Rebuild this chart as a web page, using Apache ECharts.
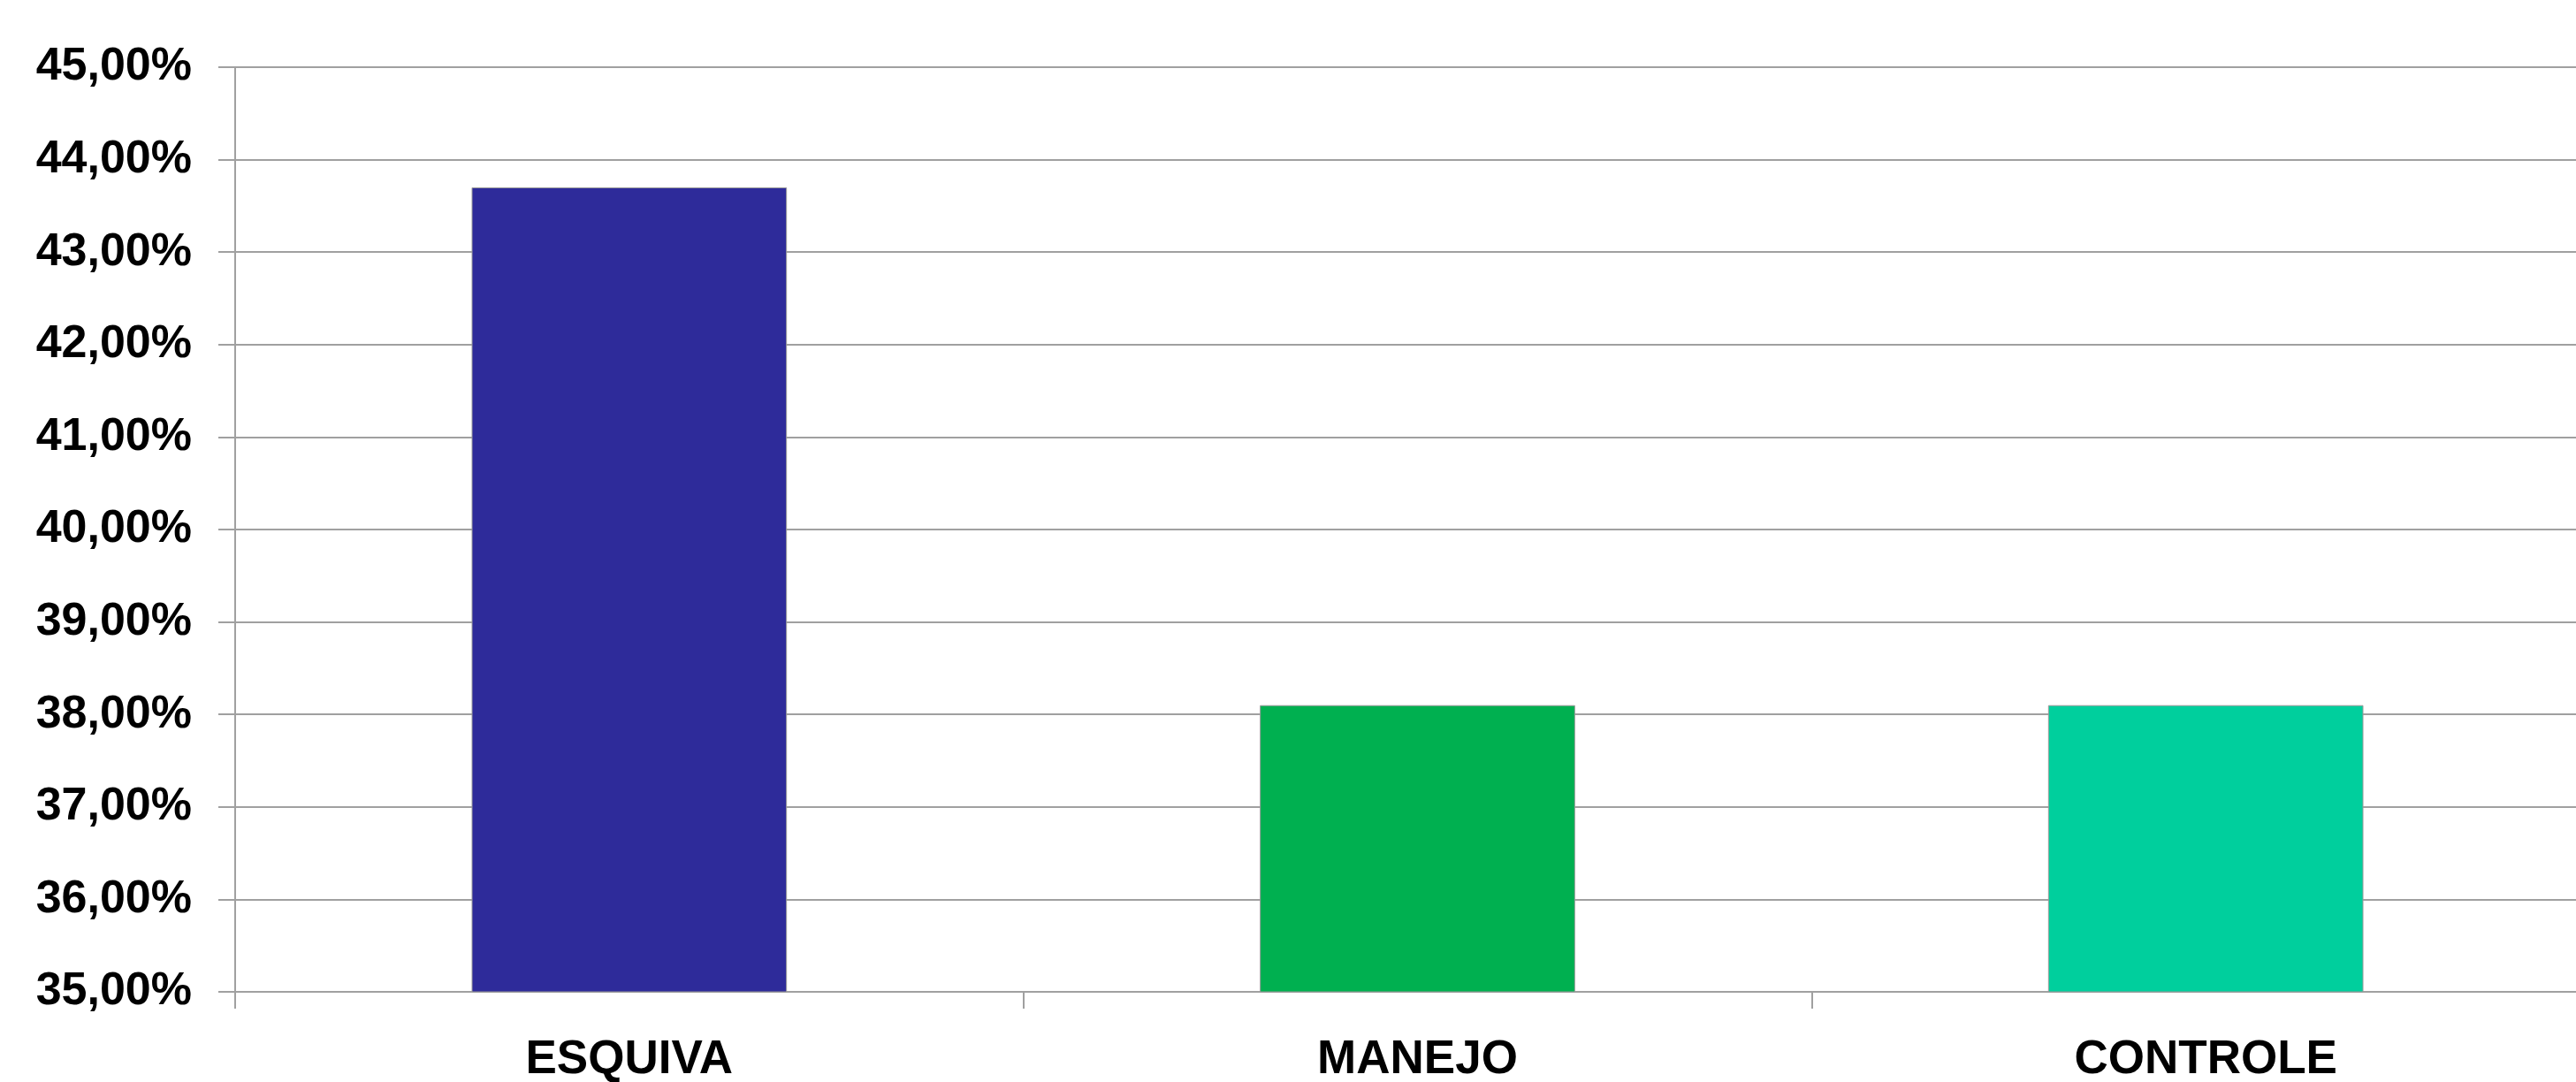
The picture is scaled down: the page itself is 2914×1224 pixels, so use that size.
<!DOCTYPE html>
<html>
<head>
<meta charset="utf-8">
<script src="https://cdn.jsdelivr.net/npm/echarts@6/dist/echarts.min.js"></script>
<style>
html,body{margin:0;padding:0;background:#fff;overflow:hidden;}
#chart{width:2914px;height:1224px;}
</style>
</head>
<body>
<div id="chart"></div>
<script>
const categories = ['ESQUIVA', 'MANEJO', 'CONTROLE'];
const values = [43.70, 38.10, 38.10];
const barColors = ['#2E2B9A', '#00B050', '#00CF9D'];
const yMin = 35, yMax = 45, yStep = 1;

const chart = echarts.init(document.getElementById('chart'));
chart.setOption({
  animation: false,
  backgroundColor: '#ffffff',
  grid: { left: 266, top: 76, right: -27, bottom: 102, containLabel: false, outerBoundsMode: 'none' },
  xAxis: {
    type: 'category',
    data: categories,
    axisLine: { show: true, lineStyle: { color: '#A0A0A0', width: 2 } },
    axisTick: { show: true, length: 19, lineStyle: { color: '#A0A0A0', width: 2 } },
    axisLabel: { margin: 51, color: '#000', fontFamily: 'Liberation Sans', fontWeight: 'bold', fontSize: 53 }
  },
  yAxis: {
    type: 'value',
    min: yMin, max: yMax, interval: yStep,
    axisLine: { show: true, lineStyle: { color: '#A0A0A0', width: 2 } },
    axisTick: { show: true, length: 19, lineStyle: { color: '#A0A0A0', width: 2 } },
    splitLine: { show: true, lineStyle: { color: '#A0A0A0', width: 2 } },
    axisLabel: {
      margin: 49, color: '#000', fontFamily: 'Liberation Sans', fontWeight: 'bold', fontSize: 52,
      formatter: v => v.toFixed(2).replace('.', ',') + '%'
    }
  },
  series: [{
    type: 'bar',
    barWidth: '40%',
    data: values.map((v, i) => ({ value: v, itemStyle: { color: barColors[i] } })),
    itemStyle: { borderColor: '#9A9A9A', borderWidth: 1 }
  }]
});
</script>
</body>
</html>
